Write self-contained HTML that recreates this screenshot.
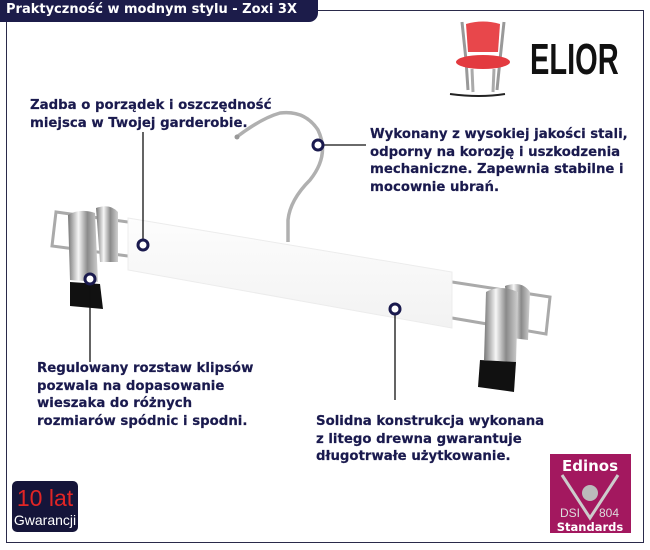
<!DOCTYPE html>
<html><head><meta charset="utf-8"><style>
body{margin:0;width:650px;height:550px;background:#fff;position:relative;overflow:hidden;font-family:"DejaVu Sans","Liberation Sans",sans-serif}
.frame{position:absolute;left:6px;top:10px;width:636px;height:531px;border:1.5px solid #2a2a4a}
.tab{position:absolute;left:0;top:0;width:318px;height:22px;background:#1c1c4a;border-bottom-right-radius:9px;color:#fff;font:bold 13px "DejaVu Sans",sans-serif;line-height:20px;padding-left:6px;box-sizing:border-box}
.t{position:absolute;color:#1a1a4e;font-weight:bold;font-size:13.3px;line-height:17.6px;white-space:nowrap;-webkit-text-stroke:0.2px #1a1a4e}
</style></head><body>
<div class="frame"></div>
<div class="tab">Praktyczność w modnym stylu - Zoxi 3X</div>

<svg width="650" height="550" style="position:absolute;left:0;top:0">
<defs>
<linearGradient id="chr" x1="0" y1="0" x2="1" y2="0"><stop offset="0" stop-color="#777"/><stop offset=".35" stop-color="#f6f6f6"/><stop offset=".65" stop-color="#8a8a8a"/><stop offset="1" stop-color="#d0d0d0"/></linearGradient>
<linearGradient id="wd" x1="0" y1="0" x2="0" y2="1"><stop offset="0" stop-color="#fdfdfd"/><stop offset="1" stop-color="#f2f2f2"/></linearGradient>
</defs>
<!-- chair -->
<path d="M462 22 L466 60 L468 90 M504 22 L500 60 L497 90" stroke="#999" stroke-width="3" fill="none"/>
<path d="M466 24 Q483 19 500 24 L498 52 L468 52 Z" fill="#e8474b"/>
<ellipse cx="483" cy="62" rx="27" ry="7" fill="#e33a3f"/>
<path d="M472 69 L473 92 M494 69 L493 92" stroke="#aaa" stroke-width="3"/>
<path d="M450 94 Q480 98 505 94" stroke="#222" stroke-width="2" fill="none"/>
<text x="530" y="74" font-family="Liberation Sans,sans-serif" font-weight="bold" font-size="44" fill="#111" transform="translate(530 0) scale(0.66 1) translate(-530 0)">ELIOR</text>

<!-- rods -->
<path d="M128 222 L56 212 L52 246 L128 256" stroke="#aaa" stroke-width="3" fill="none"/>
<path d="M452 282 L550 297 L546 334 L452 318" stroke="#aaa" stroke-width="3" fill="none"/>
<!-- hook -->
<path d="M288 242 L288 220 Q290 200 310 180 Q330 155 318 130 Q305 110 280 113 Q262 118 238 136" stroke="#b0b0b0" stroke-width="3.5" fill="none"/>
<circle cx="237" cy="137" r="2.5" fill="#999"/>
<!-- wood -->
<polygon points="128,218 452,272 452,328 128,270" fill="url(#wd)" stroke="#ececec"/>
<!-- left clips -->
<path d="M96 208 Q110 203 118 212 L118 262 L100 262 Z" fill="url(#chr)"/>
<path d="M68 215 Q80 208 95 213 L98 282 L70 280 Z" fill="url(#chr)"/>
<path d="M70 282 L100 284 L103 309 L70 306 Z" fill="#111"/>
<!-- right clips -->
<path d="M505 286 Q522 280 530 292 L528 340 L512 338 Z" fill="url(#chr)"/>
<path d="M486 292 Q500 284 518 292 L516 362 L484 360 Z" fill="url(#chr)"/>
<path d="M480 360 L516 362 L514 392 L478 387 Z" fill="#111"/>

<!-- leader lines -->
<g stroke="#111" stroke-width="1.3">
<line x1="143" y1="132" x2="143" y2="240"/>
<line x1="90" y1="284" x2="90" y2="362"/>
<line x1="323" y1="145" x2="366" y2="145"/>
<line x1="395" y1="314" x2="395" y2="400"/>
</g>
<g fill="#fff" stroke="#1a1a4e" stroke-width="3">
<circle cx="143" cy="245" r="5"/>
<circle cx="90" cy="279" r="5"/>
<circle cx="318" cy="145" r="5"/>
<circle cx="395" cy="309" r="5"/>
</g>

<!-- badges -->
<rect x="12" y="481" width="66" height="51" rx="5" fill="#15153a"/>
<text x="45" y="506" text-anchor="middle" font-family="Liberation Sans,sans-serif" font-size="23" fill="#e12525">10 lat</text>
<text x="45" y="525" text-anchor="middle" font-family="Liberation Sans,sans-serif" font-size="14" fill="#fff">Gwarancji</text>
<rect x="550" y="454" width="81" height="79" fill="#a3185f"/>
<text x="590" y="471" text-anchor="middle" font-family="DejaVu Sans,sans-serif" font-weight="bold" font-size="15" fill="#fff">Edinos</text>
<path d="M562 475 L590 518 L618 475" stroke="#ccc" stroke-width="3" fill="none"/>
<circle cx="590" cy="493" r="8" fill="#bbb"/>
<text x="560" y="517" font-family="Liberation Sans,sans-serif" font-size="12" fill="#ddd">DSI</text>
<text x="599" y="517" font-family="Liberation Sans,sans-serif" font-size="12" fill="#ddd">804</text>
<text x="590" y="531" text-anchor="middle" font-family="DejaVu Sans,sans-serif" font-weight="bold" font-size="11.5" fill="#fff">Standards</text>
</svg>

<div class="t" style="left:30px;top:97px">Zadba o porządek i oszczędność<br>miejsca w Twojej garderobie.</div>
<div class="t" style="left:370px;top:126px">Wykonany z wysokiej jakości stali,<br>odporny na korozję i uszkodzenia<br>mechaniczne. Zapewnia stabilne i<br>mocownie ubrań.</div>
<div class="t" style="left:37px;top:360px">Regulowany rozstaw klipsów<br>pozwala na dopasowanie<br>wieszaka do różnych<br>rozmiarów spódnic i spodni.</div>
<div class="t" style="left:316px;top:413px">Solidna konstrukcja wykonana<br>z litego drewna gwarantuje<br>długotrwałe użytkowanie.</div>
</body></html>
